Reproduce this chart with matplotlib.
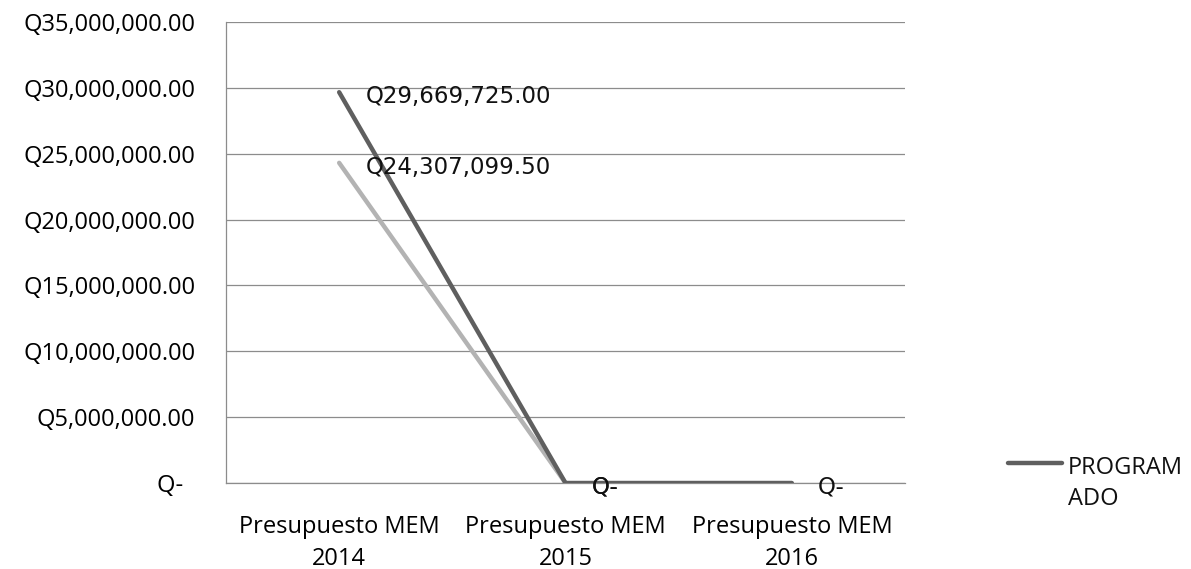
import matplotlib
matplotlib.use("Agg")
import matplotlib.pyplot as plt
from matplotlib.lines import Line2D
import numpy as np

categories = ["Presupuesto MEM\n2014", "Presupuesto MEM\n2015", "Presupuesto MEM\n2016"]
programado = [29669725.00, 0.0, 0.0]
segunda = [24307099.50, 0.0, np.nan]
programado_labels = ["Q29,669,725.00", "Q-", "Q-"]
segunda_labels = ["Q24,307,099.50", "Q-", None]
yticks = [0, 5e6, 10e6, 15e6, 20e6, 25e6, 30e6, 35e6]
ytick_labels = ["Q-  ", "Q5,000,000.00", "Q10,000,000.00", "Q15,000,000.00",
                "Q20,000,000.00", "Q25,000,000.00", "Q30,000,000.00", "Q35,000,000.00"]
legend_label = "PROGRAM\nADO"

DARK = "#5f5f5f"
LIGHT = "#b3b3b3"
GRID = "#8c8c8c"
FS = 17

fig = plt.figure(figsize=(11.91, 5.69), dpi=100)
ax = fig.add_axes([226/1191, 1-483/569, (905-226)/1191, (483-22)/569])

x = np.arange(len(categories))
ax.plot(x, segunda, color=LIGHT, lw=3.2, solid_capstyle="round", zorder=3)
ax.plot(x, programado, color=DARK, lw=3.2, solid_capstyle="round", zorder=4)

ax.set_xlim(-0.5, 2.5)
ax.set_ylim(0, 35e6)
ax.set_yticks(yticks)
ax.set_yticklabels(ytick_labels, fontfamily="Open Sans", fontsize=FS)
ax.set_xticks(x)
ax.set_xticklabels(categories, fontfamily="Open Sans", fontsize=FS, linespacing=1.45)
ax.tick_params(axis="y", length=0, pad=22)
ax.tick_params(axis="x", length=0, pad=23)
ax.grid(axis="y", color=GRID, lw=0.9)
ax.set_axisbelow(True)
for s in ["top", "right"]:
    ax.spines[s].set_visible(False)
for s in ["left", "bottom"]:
    ax.spines[s].set_color(GRID)
    ax.spines[s].set_linewidth(0.9)

def annotate(vals, labels):
    for xi, v, lab in zip(x, vals, labels):
        if lab is None or np.isnan(v):
            continue
        ax.annotate(lab, (xi, v), xytext=(19, -3), textcoords="offset points",
                    ha="left", va="center", fontsize=16.5, fontfamily="DejaVu Sans",
                    color="#111111", zorder=6)

annotate(programado, programado_labels)
annotate(segunda, segunda_labels)

# legend (single entry, handle aligned with first text line)
fig.add_artist(Line2D([1008/1191, 1062/1191], [1-463/569, 1-463/569], color=DARK, lw=3.2,
                      solid_capstyle="round", transform=fig.transFigure))
fig.text(1068/1191, 1-456/569, legend_label, ha="left", va="top", fontfamily="Open Sans",
         fontsize=FS, linespacing=1.4, color="#111111")

fig.savefig("out.png", dpi=100, facecolor="white")
